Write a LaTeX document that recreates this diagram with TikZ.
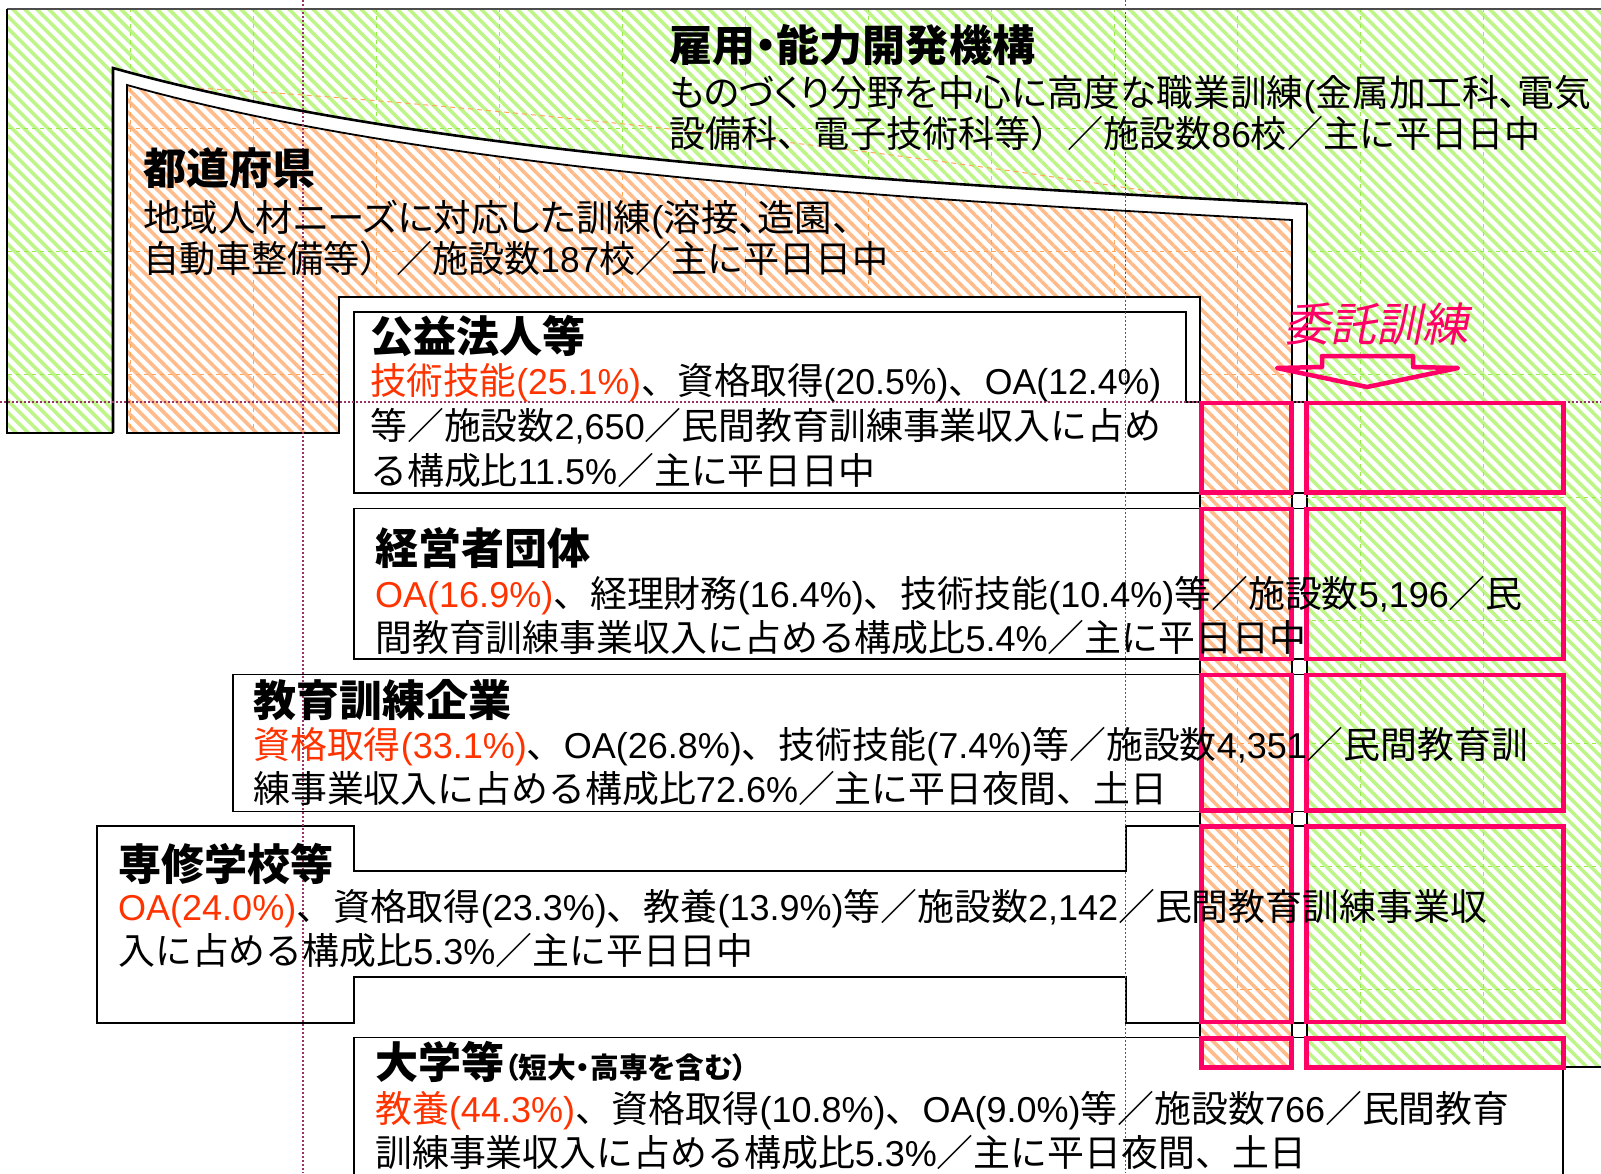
\documentclass[tikz,border=0pt]{standalone}
\usepackage{fontspec}
\setmainfont{Liberation Sans}
\newfontfamily\jpf{Noto Sans CJK JP}[Scale=1.025]
\newfontfamily\jpp{Noto Sans CJK JP}[Scale=1.025,RawFeature=+palt]
\newfontfamily\jpit{Noto Sans CJK JP}[FakeSlant=0.2]
\usetikzlibrary{patterns.meta}
% automatic switch to the Japanese font for CJK characters
\XeTeXinterchartokenstate=1
\newXeTeXintercharclass\jpcls
\newcount\jpcnt
\def\jprange#1#2{\jpcnt=#1\relax\loop\XeTeXcharclass\jpcnt=\jpcls\relax\ifnum\jpcnt<#2\relax\advance\jpcnt by 1\relax\repeat}
\jprange{"3000}{"30FF}
\jprange{"4E00}{"9FFF}
\jprange{"FF00}{"FFEF}
\def\jpsel{\jpf}
\def\jptoks#1{\XeTeXinterchartoks #1 \jpcls = {\jpsel}\XeTeXinterchartoks \jpcls #1 = {\rmfamily}}
\jptoks{0}\jptoks{4095}
\ifnum\jpcls=1 \else\jptoks{1}\fi
\ifnum\jpcls=2 \else\jptoks{2}\fi
\ifnum\jpcls=3 \else\jptoks{3}\fi

% fit a line of text to a given width (in px)
\newsavebox\fitbox
\newcommand\fitw[2]{\sbox\fitbox{#2}\pgfmathsetmacro\fitsc{#1/\the\wd\fitbox}\scalebox{\fitsc}[1]{\usebox\fitbox}}

\definecolor{pinkc}{RGB}{255,0,102}
\definecolor{redt}{RGB}{255,51,0}
\definecolor{guidec}{RGB}{153,51,102}
\definecolor{hg}{RGB}{190,245,135}
\definecolor{ho}{RGB}{255,188,138}
\definecolor{gg}{RGB}{150,235,75}
\definecolor{go}{RGB}{255,165,90}

\newcommand\fbody{\fontsize{36}{43}\selectfont}
\newcommand\fhead{\fontsize{42}{50}\selectfont\bfseries}
\newcommand\tilegrid[1]{%
  \foreach \gx in {7,130,...,1600} {\draw[#1, line width=0.6pt, dash pattern=on 4pt off 4pt] (\gx,0) -- (\gx,1173);}
  \foreach \gy in {5,128,...,1173} {\draw[#1, line width=0.6pt, dash pattern=on 4pt off 4pt] (0,\gy) -- (1601,\gy);}
}
\def\greenpath{(7,9) -- (1601,9) -- (1601,1067) -- (1307,1067) -- (1307,204) .. controls (858,181.5) and (413,152) .. (113,68) -- (113,433) -- (7,433) -- cycle}
\def\orangepath{(127,85) .. controls (420,167) and (850,197) .. (1292,220) -- (1292,1067) -- (1200,1067) -- (1200,297) -- (339,297) -- (339,433) -- (127,433) -- cycle}

\tikzset{
  hatchG/.style={pattern={Lines[angle=-45,distance=8.49pt,line width=3.6pt]}, pattern color=hg},
  hatchO/.style={pattern={Lines[angle=-45,distance=8.49pt,line width=3.6pt]}, pattern color=ho},
  blk/.style={draw=black, line width=1.6pt},
  blkthick/.style={draw=black, line width=2.6pt},
  orgbox/.style={fill=white, draw=black, line width=1.6pt},
  pinkborder/.style={draw=pinkc, line width=4.6pt},
  txt/.style={inner sep=0pt, anchor=base west, font=\fbody},
  head/.style={inner sep=0pt, anchor=base west, font=\fhead},
  guideline/.style={draw=guidec, line width=1.5pt, dash pattern=on 1.5pt off 2.5pt},
}

\begin{document}
\begin{tikzpicture}[x=1pt,y=-1pt]
\useasboundingbox (0,0) rectangle (1601,1173);
\clip (0,0) rectangle (1601,1173);
\fill[white] (0,0) rectangle (1601,1173);

% ---- green region (雇用・能力開発機構)
\path[hatchG] \greenpath;
\begin{scope}
  \clip \greenpath;
  \tilegrid{gg}
  \draw[go, line width=1pt, dash pattern=on 5pt off 4pt] (127,85) .. controls (350,92) and (900,145) .. (1292,215);
\end{scope}
\draw[draw=black!70, line width=1.5pt] (7,9) -- (1601,9);
\draw[blk] (7,9) -- (7,433) -- (113,433);
\draw[blkthick] (113,433) -- (113,68) .. controls (413,152) and (858,181.5) .. (1307,204);
\draw[blk] (1307,204) -- (1307,1067);
\draw[blk] (1563,1067) -- (1601,1067);

% ---- orange region (都道府県)
\path[hatchO] \orangepath;
\begin{scope}
  \clip \orangepath;
  \tilegrid{go}
\end{scope}
\draw[blk, line width=1.8pt] \orangepath;

% ---- organisation boxes
\draw[orgbox] (354,312) -- (1186,312) -- (1186,402) -- (1307,402) -- (1307,493) -- (354,493) -- cycle;
\draw[orgbox] (354,508.5) rectangle (1307,659);
\draw[orgbox] (233,674.5) rectangle (1307,811.5);
\draw[orgbox] (97,826) -- (354,826) -- (354,871) -- (1126,871) -- (1126,826) -- (1307,826) -- (1307,1023) -- (1126,1023) -- (1126,977) -- (354,977) -- (354,1023) -- (97,1023) -- cycle;
\draw[orgbox] (354,1037.5) -- (1563,1037.5) -- (1563,1200) -- (354,1200) -- cycle;

% ---- pink boxes: fills
\foreach \ya/\yb in {403/492.5, 509/659, 675/810.5, 826.7/1022, 1038.5/1067.5} {
  \fill[white] (1201.5,\ya) rectangle (1291.5,\yb);
  \path[hatchO] (1201.5,\ya) rectangle (1291.5,\yb);
  \fill[white] (1306.7,\ya) rectangle (1563.5,\yb);
  \path[hatchG] (1306.7,\ya) rectangle (1563.5,\yb);
}
\begin{scope}
  \clip (1201.5,403) rectangle (1291.5,1067.5);
  \tilegrid{go}
\end{scope}
\begin{scope}
  \clip (1306.7,403) rectangle (1563.5,1067.5);
  \tilegrid{gg}
\end{scope}

% ---- guide lines
\draw[guideline] (0,402) -- (1601,402);
\draw[guideline] (303,0) -- (303,1173);
\draw[guideline] (1125.5,0) -- (1125.5,1173);

% ---- pink borders
\foreach \ya/\yb in {403/492.5, 509/659, 675/810.5, 826.7/1022, 1038.5/1067.5} {
  \draw[pinkborder] (1201.5,\ya) rectangle (1291.5,\yb);
  \draw[pinkborder] (1306.7,\ya) rectangle (1563.5,\yb);
}

% ---- 委託訓練 arrow
\draw[draw=pinkc, line width=4.5pt, line join=round] (1322,356) -- (1413,356) -- (1413,367) -- (1458,368) -- (1367,387) -- (1277,368) -- (1322,367) -- cycle;
\node[anchor=base west, inner sep=0pt, text=pinkc, font=\fontsize{46}{50}\selectfont\let\jpsel\jpit] (tItaku) at (1284,341.5) {委託訓練};

% ---- texts
\node[head] (tKikou) at (669,61) {\let\jpsel\jpp 雇用・能力開発機構};
\node[txt] (tKikou1) at (669,106.7) {\let\jpsel\jpp\fitw{922}{ものづくり分野を中心に高度な職業訓練(金属加工科、電気}};
\node[txt] (tKikou2) at (669,147.7) {\fitw{871}{設備科、電子技術科等）／施設数86校／主に平日日中}};

\node[head] (tPref) at (143,184.5) {都道府県};
\node[txt] (tPref1) at (143,231) {\let\jpsel\jpp\fitw{708}{地域人材ニーズに対応した訓練(溶接、造園、}};
\node[txt] (tPref2) at (143,272) {\fitw{745}{自動車整備等）／施設数187校／主に平日日中}};

\node[head] (tKoeki) at (370,352) {公益法人等};
\node[txt] (tKoeki1) at (370,394.5) {\fitw{791}{\textcolor{redt}{技術技能(25.1\%)}、資格取得(20.5\%)、OA(12.4\%)}};
\node[txt] (tKoeki2) at (370,439.5) {等／施設数2,650／民間教育訓練事業収入に占め};
\node[txt] (tKoeki3) at (370,484) {る構成比11.5\%／主に平日日中};

\node[head] (tKeiei) at (375,564) {経営者団体};
\node[txt] (tKeiei1) at (375,607) {\textcolor{redt}{OA(16.9\%)}、経理財務(16.4\%)、技術技能(10.4\%)等／施設数5,196／民};
\node[txt] (tKeiei2) at (375,651) {間教育訓練事業収入に占める構成比5.4\%／主に平日日中};

\node[head] (tKyoiku) at (253,716) {教育訓練企業};
\node[txt] (tKyoiku1) at (253,758.5) {\textcolor{redt}{資格取得(33.1\%)}、OA(26.8\%)、技術技能(7.4\%)等／施設数4,351／民間教育訓};
\node[txt] (tKyoiku2) at (253,802) {練事業収入に占める構成比72.6\%／主に平日夜間、土日};

\node[head] (tSenshu) at (118,880) {専修学校等};
\node[txt] (tSenshu1) at (118,920) {\textcolor{redt}{OA(24.0\%)}、資格取得(23.3\%)、教養(13.9\%)等／施設数2,142／民間教育訓練事業収};
\node[txt] (tSenshu2) at (118,964) {入に占める構成比5.3\%／主に平日日中};

\node[head] (tDaigaku) at (375,1078) {大学等{\let\jpsel\jpp\fontsize{28}{32}\selectfont （短大・高専を含む）}};
\node[txt] (tDaigaku1) at (375,1122) {\textcolor{redt}{教養(44.3\%)}、資格取得(10.8\%)、OA(9.0\%)等／施設数766／民間教育};
\node[txt] (tDaigaku2) at (375,1166) {訓練事業収入に占める構成比5.3\%／主に平日夜間、土日};
\end{tikzpicture}
\end{document}
